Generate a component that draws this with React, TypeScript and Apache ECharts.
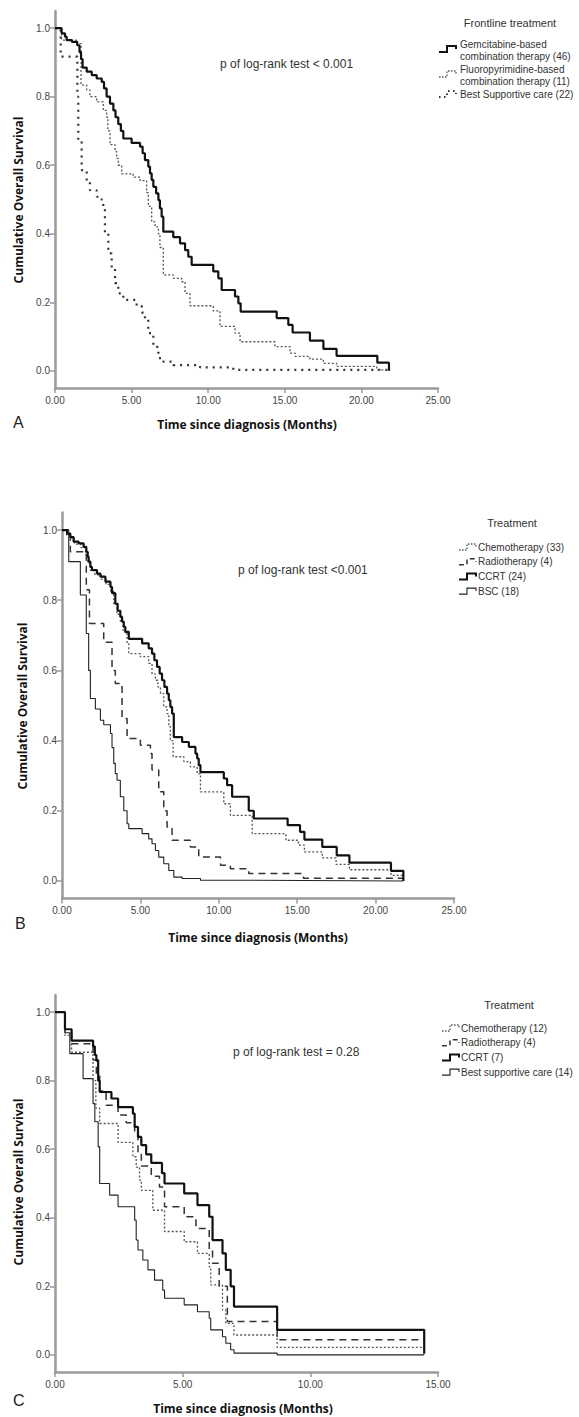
import React, { useEffect, useRef } from "react";
import * as echarts from "echarts";

// ---------- tick values ----------
const yTicks = [0, 0.2, 0.4, 0.6, 0.8, 1.0];
const xMaxAB = 25;
const xMaxC = 15;

// ---------- Panel A: Frontline treatment ----------
const aGem = [[0,1],[0.43,0.985],[0.65,0.975],[0.76,0.965],[1.1,0.96],[1.45,0.95],[1.6,0.93],[1.7,0.91],[1.8,0.885],[2.07,0.873],[2.4,0.863],[2.72,0.853],[3.05,0.843],[3.2,0.824],[3.37,0.8],[3.59,0.78],[3.81,0.76],[3.95,0.74],[4.13,0.72],[4.3,0.7],[4.46,0.678],[5.0,0.665],[5.55,0.654],[5.72,0.635],[5.87,0.615],[6.09,0.596],[6.2,0.576],[6.31,0.557],[6.42,0.537],[6.6,0.518],[6.75,0.498],[6.85,0.474],[6.96,0.45],[7.07,0.406],[7.72,0.39],[8.16,0.372],[8.49,0.352],[8.7,0.333],[8.92,0.309],[10.33,0.29],[10.66,0.27],[10.88,0.236],[11.75,0.217],[11.97,0.197],[12.12,0.173],[14.47,0.154],[15.23,0.134],[15.51,0.112],[16.64,0.088],[17.52,0.064],[18.38,0.044],[21.04,0.024],[21.8,0.0]];
const aFluoro = [[0,1],[0.43,0.965],[1.4,0.955],[1.7,0.834],[2.07,0.82],[2.28,0.8],[2.72,0.785],[3.15,0.76],[3.37,0.74],[3.45,0.7],[3.59,0.66],[3.92,0.64],[4.03,0.62],[4.13,0.6],[4.35,0.575],[5.11,0.565],[5.55,0.555],[5.98,0.52],[6.09,0.48],[6.31,0.435],[6.53,0.42],[6.75,0.4],[6.85,0.36],[7.07,0.28],[7.72,0.27],[8.27,0.26],[8.49,0.226],[8.81,0.19],[10.33,0.175],[10.77,0.13],[11.75,0.11],[12.08,0.085],[14.36,0.071],[15.34,0.052],[15.67,0.042],[16.64,0.034],[17.52,0.022],[18.38,0.013],[21.0,0.003],[21.8,0.0]];
const aBsc = [[0,1],[0.37,0.917],[1.46,0.8],[1.52,0.67],[1.74,0.586],[2.07,0.552],[2.28,0.527],[2.72,0.508],[2.94,0.5],[3.15,0.48],[3.26,0.4],[3.48,0.343],[3.7,0.3],[3.92,0.256],[4.13,0.226],[4.46,0.207],[5.33,0.19],[5.66,0.17],[5.87,0.149],[6.09,0.11],[6.42,0.07],[6.75,0.037],[7.07,0.027],[7.72,0.017],[9.47,0.01],[11.64,0.003],[21.8,0.003]];

// ---------- Panel B: Treatment ----------
const bChemo = [[0,1],[0.3,0.985],[0.55,0.975],[0.8,0.96],[1.2,0.95],[1.5,0.93],[1.65,0.905],[1.8,0.885],[2.1,0.872],[2.5,0.86],[2.8,0.845],[3.1,0.825],[3.3,0.79],[3.5,0.76],[3.72,0.74],[3.9,0.71],[4.15,0.677],[4.26,0.648],[5.0,0.639],[5.53,0.62],[5.74,0.59],[5.96,0.572],[6.11,0.553],[6.28,0.534],[6.49,0.496],[6.7,0.477],[6.81,0.44],[6.91,0.4],[7.09,0.354],[7.77,0.34],[8.19,0.325],[8.62,0.306],[8.83,0.254],[10.32,0.22],[10.74,0.187],[12.13,0.135],[14.28,0.116],[15.08,0.102],[15.46,0.083],[16.6,0.066],[17.48,0.047],[18.33,0.032],[20.98,0.016],[21.77,0.0]];
const bRadio = [[0,1],[0.53,0.938],[1.55,0.83],[1.75,0.734],[2.66,0.68],[3.19,0.6],[3.4,0.563],[3.83,0.463],[4.15,0.406],[5.0,0.387],[5.64,0.363],[5.74,0.316],[6.17,0.254],[6.49,0.2],[6.7,0.154],[7.02,0.116],[8.19,0.097],[8.72,0.068],[10.11,0.045],[10.74,0.035],[11.91,0.021],[15.4,0.008],[21.77,0.003]];
const bCcrt = [[0,1],[0.32,0.99],[0.53,0.98],[0.74,0.967],[1.06,0.962],[1.38,0.952],[1.55,0.938],[1.64,0.924],[1.7,0.91],[1.81,0.895],[1.91,0.886],[2.23,0.876],[2.45,0.867],[2.77,0.853],[3.09,0.838],[3.19,0.82],[3.4,0.79],[3.55,0.77],[3.72,0.753],[3.83,0.739],[3.94,0.724],[4.04,0.71],[4.26,0.69],[5.11,0.677],[5.53,0.663],[5.74,0.648],[5.89,0.629],[6.06,0.61],[6.23,0.591],[6.38,0.572],[6.53,0.553],[6.7,0.534],[6.81,0.515],[6.91,0.496],[7.02,0.477],[7.13,0.41],[7.66,0.396],[8.09,0.382],[8.51,0.363],[8.62,0.349],[8.72,0.33],[8.83,0.31],[10.32,0.292],[10.53,0.273],[10.85,0.24],[11.91,0.2],[12.23,0.178],[14.39,0.159],[15.18,0.14],[15.46,0.118],[16.6,0.097],[17.52,0.073],[18.33,0.052],[20.98,0.029],[21.77,0.0]];
const bBsc = [[0,1],[0.43,0.91],[1.17,0.815],[1.55,0.705],[1.7,0.6],[1.81,0.52],[2.13,0.49],[2.45,0.458],[2.66,0.445],[3.09,0.42],[3.19,0.38],[3.3,0.335],[3.4,0.306],[3.51,0.287],[3.72,0.24],[3.94,0.2],[4.15,0.163],[4.26,0.149],[5.11,0.135],[5.53,0.12],[5.74,0.106],[5.96,0.087],[6.17,0.068],[6.49,0.049],[6.81,0.03],[7.13,0.011],[7.66,0.007],[8.83,0.002],[12.0,0.0],[21.77,0.0]];

// ---------- Panel C: Treatment ----------
const cChemo = [[0,1],[0.39,0.932],[0.65,0.883],[1.49,0.8],[1.6,0.72],[1.75,0.675],[2.47,0.62],[3.05,0.578],[3.18,0.548],[3.31,0.51],[3.38,0.48],[3.83,0.422],[4.29,0.36],[5.06,0.33],[5.58,0.296],[6.04,0.257],[6.1,0.204],[6.56,0.131],[6.69,0.092],[7.01,0.058],[8.7,0.022],[14.46,0.022]];
const cRadio = [[0,1],[0.39,0.94],[0.65,0.908],[1.49,0.86],[1.62,0.82],[1.75,0.77],[2.0,0.728],[2.47,0.7],[2.79,0.677],[3.12,0.646],[3.25,0.59],[3.38,0.551],[3.77,0.521],[4.09,0.49],[4.29,0.432],[5.06,0.403],[5.52,0.369],[6.04,0.306],[6.17,0.267],[6.43,0.2],[6.75,0.097],[8.7,0.044],[14.46,0.044]];
const cCcrt = [[0,1],[0.39,0.95],[0.65,0.917],[1.49,0.9],[1.56,0.875],[1.62,0.86],[1.69,0.8],[1.75,0.767],[2.21,0.748],[2.47,0.723],[3.05,0.704],[3.12,0.665],[3.25,0.636],[3.38,0.612],[3.57,0.585],[3.77,0.56],[4.19,0.53],[4.29,0.5],[5.06,0.471],[5.58,0.437],[6.04,0.403],[6.17,0.335],[6.56,0.296],[6.69,0.248],[6.88,0.2],[7.01,0.141],[8.7,0.073],[14.46,0.003]];
const cBsc = [[0,1],[0.39,0.94],[0.58,0.879],[1.1,0.806],[1.49,0.733],[1.56,0.68],[1.69,0.607],[1.75,0.5],[2.14,0.466],[2.47,0.432],[3.12,0.393],[3.18,0.335],[3.25,0.306],[3.44,0.277],[3.64,0.248],[3.9,0.218],[4.22,0.189],[4.29,0.165],[5.06,0.146],[5.58,0.126],[6.04,0.107],[6.1,0.073],[6.56,0.053],[6.69,0.034],[6.88,0.015],[7.01,0.005],[8.7,0.0],[14.46,0.0]];

// ---------- texts ----------
const pTexts = ["p of log-rank test < 0.001", "p of log-rank test <0.001", "p of log-rank test = 0.28"];
const legendTitles = ["Frontline treatment", "Treatment", "Treatment"];
const namesA = ["Gemcitabine-based combination therapy (46)", "Fluoropyrimidine-based combination therapy (11)", "Best Supportive care (22)"];
const namesB = ["Chemotherapy (33)", "Radiotherapy (4)", "CCRT (24)", "BSC (18)"];
const namesC = ["Chemotherapy (12)", "Radiotherapy (4)", "CCRT (7)", "Best supportive care (14)"];
const xTitle = "Time since diagnosis (Months)";
const yTitle = "Cumulative Overall Survival";
const panelLetters = ["A", "B", "C"];

const STY: Record<string, { color: string; width: number; type: any }> = {
  thick: { color: "#111", width: 2.2, type: "solid" },
  fineDot: { color: "#555", width: 1.3, type: [2, 2] },
  heavyDot: { color: "#333", width: 2.2, type: [2, 5] },
  dash: { color: "#333", width: 1.5, type: [7, 5] },
  thin: { color: "#222", width: 1.1, type: "solid" },
};

const TICK_FONT = "'Liberation Sans', Arial, sans-serif";
const AXIS_GRAY = "#9a9a9a";

const grids = [
  { left: 55, top: 11, width: 383, height: 377 },
  { left: 62, top: 512.5, width: 392, height: 386 },
  { left: 55, top: 995, width: 383, height: 377 },
];

function xAxisOf(i: number, max: number) {
  return {
    type: "value", gridIndex: i, min: 0, max, interval: 5,
    axisLine: { show: true, onZero: false, lineStyle: { color: AXIS_GRAY, width: 2.5 } },
    axisTick: { show: true, length: 5, lineStyle: { color: AXIS_GRAY, width: 1.5 } },
    axisLabel: { formatter: (v: number) => v.toFixed(2), color: "#444", fontSize: 10, fontFamily: TICK_FONT, margin: 7, showMaxLabel: true },
    splitLine: { show: false },
  };
}
function yAxisOf(i: number) {
  return {
    type: "value", gridIndex: i, min: -0.05, max: 1.05,
    axisLine: { show: true, onZero: false, lineStyle: { color: AXIS_GRAY, width: 2.5 } },
    axisTick: { show: true, length: 5, customValues: yTicks, lineStyle: { color: AXIS_GRAY, width: 1.5 } },
    axisLabel: { customValues: yTicks, formatter: (v: number) => v.toFixed(1), color: "#444", fontSize: 10, fontFamily: TICK_FONT, margin: 5 },
    splitLine: { show: false },
  };
}
function ser(name: string, data: number[][], sty: string, i: number) {
  const s = STY[sty];
  return {
    type: "line", name, data, step: "end", xAxisIndex: i, yAxisIndex: i,
    showSymbol: false, symbol: "none", silent: true,
    lineStyle: { color: s.color, width: s.width, type: s.type },
  };
}
function txt(text: string, x: number, y: number, font: string, align = "left", fill = "#333", rotation = 0) {
  return {
    type: "text", x, y, rotation, silent: true,
    style: { text, font, fill, textAlign: align, textVerticalAlign: "middle", align, verticalAlign: "middle" },
  };
}
function stepSym(x: number, y: number, sty: string) {
  const s = STY[sty];
  const dash = Array.isArray(s.type) ? s.type.map((d: number) => Math.max(1.5, d * 0.7)) : null;
  return {
    type: "polyline", silent: true,
    shape: { points: [[x, y + 3], [x + 8, y + 3], [x + 8, y - 3], [x + 17, y - 3], [x + 17, y]] },
    style: { stroke: s.color, lineWidth: Math.min(s.width, 2), lineDash: dash, fill: "none" },
  };
}

export default function App() {
  const ref = useRef<HTMLDivElement>(null);
  useEffect(() => {
    if (!ref.current) return;
    const chart = echarts.init(ref.current, null, { renderer: "svg" });
    const LEG_FONT = "10px 'Liberation Sans', Arial, sans-serif";
    const LT_FONT = "11px 'Liberation Sans', Arial, sans-serif";
    const P_FONT = "12px 'Liberation Sans', Arial, sans-serif";
    const T_FONT = "bold 12px 'Open Sans', sans-serif";
    const L_FONT = "16px 'Liberation Sans', Arial, sans-serif";
    const graphic: any[] = [
      // panel A
      txt(pTexts[0], 220, 64, P_FONT),
      txt(legendTitles[0], 510, 23, LT_FONT, "center"),
      stepSym(439, 49, "thick"),
      txt("Gemcitabine-based", 460, 44, LEG_FONT),
      txt("combination therapy (46)", 460, 56, LEG_FONT),
      stepSym(439, 74, "fineDot"),
      txt("Fluoropyrimidine-based", 460, 69, LEG_FONT),
      txt("combination therapy (11)", 460, 81, LEG_FONT),
      stepSym(439, 94, "heavyDot"),
      txt("Best Supportive care (22)", 460, 94, LEG_FONT),
      txt(xTitle, 247, 424, T_FONT, "center", "#111"),
      txt(yTitle, 18, 200, T_FONT, "center", "#111", Math.PI / 2),
      txt(panelLetters[0], 13, 422, L_FONT, "left", "#222"),
      // panel B
      txt(pTexts[1], 238, 570, P_FONT),
      txt(legendTitles[1], 512, 523, LT_FONT, "center"),
      ...namesB.map((n, k) => txt(n, 478, 547 + k * 14.7, LEG_FONT)),
      stepSym(459, 547, "fineDot"),
      stepSym(459, 561.7, "dash"),
      stepSym(459, 576.4, "thick"),
      stepSym(459, 591.1, "thin"),
      txt(xTitle, 258, 937, T_FONT, "center", "#111"),
      txt(yTitle, 22, 706, T_FONT, "center", "#111", Math.PI / 2),
      txt(panelLetters[1], 15, 923, L_FONT, "left", "#222"),
      // panel C
      txt(pTexts[2], 233, 1052, P_FONT),
      txt(legendTitles[2], 509, 1005, LT_FONT, "center"),
      ...namesC.map((n, k) => txt(n, 461, 1028 + k * 14.7, LEG_FONT)),
      stepSym(442, 1028, "fineDot"),
      stepSym(442, 1042.7, "dash"),
      stepSym(442, 1057.4, "thick"),
      stepSym(442, 1072.1, "thin"),
      txt(xTitle, 243, 1408, T_FONT, "center", "#111"),
      txt(yTitle, 18, 1182, T_FONT, "center", "#111", Math.PI / 2),
      txt(panelLetters[2], 13, 1400, L_FONT, "left", "#222"),
    ];
    chart.setOption({
      animation: false,
      backgroundColor: "#fff",
      grid: grids.map((g) => ({ ...g, containLabel: false })),
      xAxis: [xAxisOf(0, xMaxAB), xAxisOf(1, xMaxAB), xAxisOf(2, xMaxC)],
      yAxis: [yAxisOf(0), yAxisOf(1), yAxisOf(2)],
      series: [
        ser(namesA[2], aBsc, "heavyDot", 0),
        ser(namesA[1], aFluoro, "fineDot", 0),
        ser(namesA[0], aGem, "thick", 0),
        ser(namesB[3], bBsc, "thin", 1),
        ser(namesB[1], bRadio, "dash", 1),
        ser(namesB[0], bChemo, "fineDot", 1),
        ser(namesB[2], bCcrt, "thick", 1),
        ser(namesC[3], cBsc, "thin", 2),
        ser(namesC[1], cRadio, "dash", 2),
        ser(namesC[0], cChemo, "fineDot", 2),
        ser(namesC[2], cCcrt, "thick", 2),
      ],
      graphic,
    });
    return () => chart.dispose();
  }, []);
  return (
    <div
      ref={ref}
      style={{ position: "absolute", left: 0, top: 0, width: 579, height: 1417, background: "#fff" }}
    />
  );
}
